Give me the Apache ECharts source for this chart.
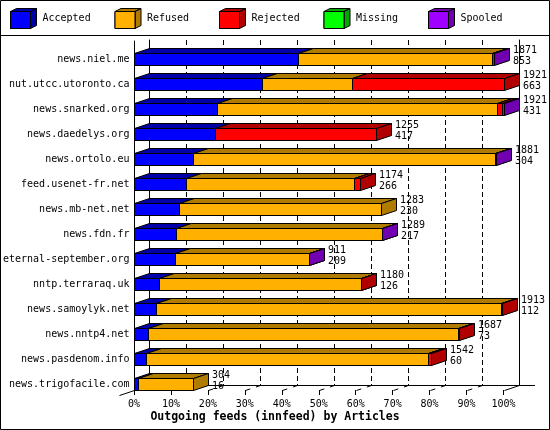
<!DOCTYPE html>
<html><head><meta charset="utf-8">
<script src="https://cdn.jsdelivr.net/npm/echarts@6/dist/echarts.min.js"></script>
<style>html,body{margin:0;padding:0;background:#fff}#c{width:550px;height:430px}</style>
</head><body><div id="c"></div>
<script>
const categories = ['news.niel.me','nut.utcc.utoronto.ca','news.snarked.org','news.daedelys.org','news.ortolo.eu','feed.usenet-fr.net','news.mb-net.net','news.fdn.fr','eternal-september.org','nntp.terraraq.uk','news.samoylyk.net','news.nntp4.net','news.pasdenom.info','news.trigofacile.com'];
const offered  = [1871,1921,1921,1255,1881,1174,1283,1289,911,1180,1913,1687,1542,304];
const accepted = [853,663,431,417,304,266,230,217,209,126,112,73,60,16];
const refused  = [1008,469,1458,0,1572,879,1053,1069,699,1051,1798,1611,1470,288];
const rejected = [0,789,22,838,0,29,0,0,0,3,3,3,12,0];
const missing  = [0,0,0,0,0,0,0,0,0,0,0,0,0,0];
const spooled  = [10,0,10,0,5,0,0,3,3,0,0,0,0,0];
const tickLabels = ['0%','10%','20%','30%','40%','50%','60%','70%','80%','90%','100%'];
const seriesNames = ['Accepted','Refused','Rejected','Missing','Spooled'];

const FONT = '"DejaVu Sans Mono", monospace';
const frontColors = ['#0000ff','#ffb000','#ff0000','#00ff00','#a000ff'];
const sideColors  = ['#0000a8','#b07c00','#b00000','#00a800','#7000b0'];
const DX = 15, DY = 5;
const axisMax = Math.max.apply(null, offered);
const segs = [accepted, refused, rejected, missing, spooled];

function makeData(k) {
  return categories.map(function (c, i) {
    let start = 0;
    for (let j = 0; j < k; j++) start += segs[j][i];
    return [i, start, start + segs[k][i]];
  });
}
function renderSeg(k) {
  return function (params, api) {
    const cat = api.value(0), s = api.value(1), e = api.value(2);
    if (e - s <= 0) return null;
    const a = api.coord([s, cat]), b = api.coord([e, cat]);
    const h = api.size([0, 1])[1] * 0.48;
    const x1 = Math.round(a[0]) + 0.5, x2 = Math.round(b[0]) + 0.5;
    const yt = Math.round(a[1] - h / 2) + 0.5, yb = Math.round(a[1] + h / 2) + 0.5;
    const st = function (f) { return { fill: f, stroke: '#000', lineWidth: 1 }; };
    return { type: 'group', children: [
      { type: 'rect', shape: { x: x1, y: yt, width: x2 - x1, height: yb - yt }, style: st(frontColors[k]) },
      { type: 'polygon', shape: { points: [[x1, yt], [x2, yt], [x2 + DX, yt - DY], [x1 + DX, yt - DY]] }, style: st(sideColors[k]) },
      { type: 'polygon', shape: { points: [[x2, yt], [x2 + DX, yt - DY], [x2 + DX, yb - DY], [x2, yb]] }, style: st(sideColors[k]) }
    ] };
  };
}

const cubePath = 'path://M0 3 L20 3 L20 20 L0 20 Z M0 3 L6 0 L26 0 L20 3 Z M20 3 L26 0 L26 17 L20 20 Z';
const squarePath = 'path://M0 0 L20 0 L20 17 L0 17 Z';

const series = seriesNames.map(function (n, k) {
  return {
    type: 'custom', name: n, xAxisIndex: 0, yAxisIndex: 0,
    itemStyle: { color: frontColors[k] },
    encode: { x: [1, 2], y: 0 },
    data: makeData(k), renderItem: renderSeg(k), z: 3 + k * 0.01
  };
});
series.push({
  type: 'custom', name: 'values', xAxisIndex: 0, yAxisIndex: 0,
  encode: { x: 1, y: 0 }, z: 5, silent: true,
  data: categories.map(function (c, i) { return [i, offered[i], accepted[i]]; }),
  renderItem: function (params, api) {
    const p = api.coord([api.value(1), api.value(0)]);
    return { type: 'text', style: { text: api.value(1) + '\n' + api.value(2), x: Math.round(p[0]) + DX + 4, y: p[1] - 3,
      verticalAlign: 'middle', align: 'left', font: '10px "DejaVu Sans Mono"', fill: '#000', lineHeight: 11 } };
  }
});
series.push({
  type: 'custom', name: 'floor', xAxisIndex: 2, yAxisIndex: 3, silent: true, z: 1,
  encode: { x: 0 },
  data: tickLabels.map(function (t, i) { return [i * axisMax / (tickLabels.length - 1), 0]; }),
  renderItem: function (params, api) {
    const p = api.coord([api.value(0), 0]);
    const x = Math.round(p[0]) + 0.5, y = Math.round(p[1]) + 0.5;
    const last = params.dataIndex === tickLabels.length - 1;
    return { type: 'line', shape: { x1: x, y1: y, x2: x + DX, y2: y - DY },
      style: { stroke: '#000', lineWidth: 1, lineDash: last ? null : [5, 6] } };
  }
});

const legends = [];
seriesNames.forEach(function (n, k) {
  const left = 10 + k * 104.5;
  legends.push({
    data: [{ name: n, icon: cubePath, itemStyle: { color: sideColors[k], borderColor: '#000', borderWidth: 1 } }],
    left: left, top: 8, itemWidth: 26, itemHeight: 20, selectedMode: false, padding: 0,
    textStyle: { fontFamily: FONT, fontSize: 10, color: '#000', padding: [5, 0, 0, 1] }
  });
  legends.push({
    data: [{ name: n, icon: squarePath, itemStyle: { color: frontColors[k], borderColor: '#000', borderWidth: 1 } }],
    left: left, top: 11, itemWidth: 20, itemHeight: 17, selectedMode: false, padding: 0, z: 10,
    textStyle: { fontFamily: FONT, fontSize: 10, color: 'rgba(0,0,0,0)' }
  });
});

const chart = echarts.init(document.getElementById('c'), null, { renderer: 'canvas' });
chart.setOption({
  backgroundColor: '#fff',
  animation: false,
  title: { text: 'Outgoing feeds (innfeed) by Articles', left: 'center', top: 411, padding: 0,
    textStyle: { fontFamily: FONT, fontWeight: 'bold', fontSize: 11.5, color: '#000' } },
  legend: legends,
  grid: [
    { left: 134, right: 46.5, top: 46.8, bottom: 33.2 },
    { left: 149, right: 31, top: 40, bottom: 45 },
    { left: 134, right: 46.5, top: 41, bottom: 40 }
  ],
  xAxis: [
    { gridIndex: 0, type: 'value', min: 0, max: axisMax, interval: axisMax / 10, show: false },
    { gridIndex: 1, type: 'value', min: 0, max: axisMax, interval: axisMax / 10,
      axisLine: { show: true, lineStyle: { color: '#000', width: 1 } }, axisTick: { show: false }, axisLabel: { show: false },
      splitLine: { show: true, lineStyle: { color: '#000', width: 1, type: [5, 3] } } },
    { gridIndex: 2, type: 'value', min: 0, max: axisMax, interval: axisMax / 10,
      axisLine: { show: false }, splitLine: { show: false },
      axisTick: { show: true, length: 5, lineStyle: { color: '#000', width: 1 } },
      axisLabel: { show: true, margin: 9, fontFamily: FONT, fontSize: 10, color: '#000',
        formatter: function (v) { return tickLabels[Math.round(v / axisMax * 10)]; } } }
  ],
  yAxis: [
    { gridIndex: 0, type: 'category', data: categories, inverse: true,
      axisLine: { show: false }, axisTick: { show: false }, splitLine: { show: false },
      axisLabel: { margin: 5, fontFamily: FONT, fontSize: 10, color: '#000' } },
    { gridIndex: 1, type: 'value', min: 0, max: 1, position: 'left',
      axisLine: { show: true, lineStyle: { color: '#000', width: 1 } }, axisTick: { show: false }, axisLabel: { show: false }, splitLine: { show: false } },
    { gridIndex: 1, type: 'value', min: 0, max: 1, position: 'right',
      axisLine: { show: true, lineStyle: { color: '#000', width: 1 } }, axisTick: { show: false }, axisLabel: { show: false }, splitLine: { show: false } },
    { gridIndex: 2, type: 'value', min: 0, max: 1, position: 'left',
      axisLine: { show: true, lineStyle: { color: '#000', width: 1 } }, axisTick: { show: false }, axisLabel: { show: false }, splitLine: { show: false } }
  ],
  graphic: [
    { type: 'rect', shape: { x: 0.5, y: 0.5, width: 549, height: 429 }, style: { fill: null, stroke: '#000', lineWidth: 1 }, z: 100 },
    { type: 'line', shape: { x1: 0, y1: 35.5, x2: 550, y2: 35.5 }, style: { stroke: '#000', lineWidth: 1 }, z: 100 },
    { type: 'line', shape: { x1: 119.5, y1: 395.5, x2: 134.5, y2: 390.5 }, style: { stroke: '#000', lineWidth: 1 } },
    { type: 'line', shape: { x1: 519, y1: 385.5, x2: 535, y2: 385.5 }, style: { stroke: '#000', lineWidth: 1 } }
  ],
  series: series
});
</script></body></html>
